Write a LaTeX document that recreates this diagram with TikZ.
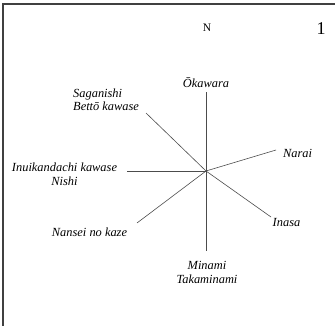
\documentclass[tikz,border=0pt]{standalone}
\usepackage{fontspec}
\setmainfont{Liberation Serif}
\begin{document}
\begin{tikzpicture}[x=1pt,y=-1pt,
  ray/.style={draw=black!70,line width=0.6pt},
  lbl/.style={font=\fontsize{12.4}{13.5}\selectfont\itshape,inner sep=0pt,align=center},
  frame/.style={draw=black!75,line width=1.3pt}]
\useasboundingbox (0,0) rectangle (335,326);
\draw[frame] (3,326) -- (3,4) -- (335,4);
\coordinate (c) at (206,171);
\coordinate (n) at (206,92);
\coordinate (s) at (206,251);
\coordinate (w) at (127,171);
\coordinate (nw) at (146,113);
\coordinate (sw) at (137,223);
\coordinate (ene) at (276,150);
\coordinate (se) at (271,217);
\foreach \p in {n,s,w,nw,sw,ene,se} \draw[ray] (c) -- (\p);
\node[font=\fontsize{11.5}{13}\selectfont,inner sep=0pt] (north) at (207,28) {N};
\node[font=\fontsize{18}{20}\selectfont,inner sep=0pt] (num) at (321,29) {1};
\node[lbl] (okawara) at (206,83) {Ōkawara};
\node[lbl,align=left,anchor=west] (saga) at (73,100) {Saganishi\\Bettō kawase};
\node[lbl] (inui) at (64.5,174.5) {Inuikandachi kawase\\Nishi};
\node[lbl] (nansei) at (89.5,232) {Nansei no kaze};
\node[lbl] (minami) at (207,272.5) {Minami\\Takaminami};
\node[lbl] (narai) at (297.5,153) {Narai};
\node[lbl] (inasa) at (286.5,223) {Inasa};
\end{tikzpicture}
\end{document}
